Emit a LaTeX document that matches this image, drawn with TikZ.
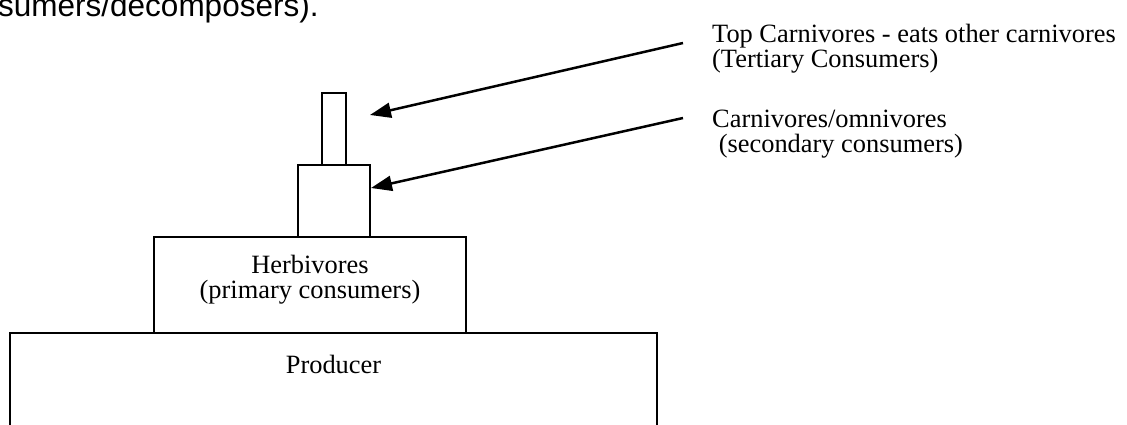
\documentclass[tikz,border=0pt]{standalone}
\usepackage{fontspec}
\setmainfont{Liberation Serif}
\newfontfamily\headfont{Liberation Sans}
\usepackage{tikz}
\usetikzlibrary{positioning}
\usetikzlibrary{arrows.meta}
\usetikzlibrary{math}

\tikzset{
  box/.style={draw, line width=2pt, inner sep=0pt, outer sep=0pt},
  labeltext/.style={font=\fontsize{26.4}{25}\selectfont, inner sep=0pt, align=left},
  pointer/.style={line width=2.5pt, -{Triangle[length=21pt,width=15pt]}},
}

\begin{document}
\begin{tikzpicture}[x=1pt,y=-1pt]

  \tikzmath{
    \lvlbase = 333; % top of producer level
    \lvlherb = 237; % top of herbivore level
    \lvlsec  = 165; % top of secondary level
  }

  \useasboundingbox (0,0) rectangle (1127,425);
  \clip (0,0) rectangle (1127,425);

  % heading line, cut at the left
  \node[anchor=base west, inner sep=0pt, font=\headfont\fontsize{31.5}{36}\selectfont]
    (heading) at (-2,17) {sumers/decomposers).};

  % pyramid levels
  \node[box, anchor=north west, minimum width=647pt, minimum height=200pt]
    (producer) at (10,\lvlbase) {};
  \node[labeltext, below=22pt of producer.north] (prodtext) {Producer};

  \node[box, anchor=south west, minimum width=312pt, minimum height=96pt]
    (herbivores) at (154,\lvlbase) {};
  \node[labeltext, align=center] (herbtext) at ([yshift=5pt]herbivores.center)
    {Herbivores\\(primary consumers)};

  \node[box, anchor=south west, minimum width=72pt, minimum height=72pt]
    (secondary) at (298,\lvlherb) {};

  \node[box, anchor=south west, minimum width=24.5pt, minimum height=72pt]
    (tertiary) at (321.5,\lvlsec) {};

  % labels on the right (base = last line)
  \node[labeltext, anchor=base west] (toplabel) at (712,68)
    {Top Carnivores - eats other carnivores\\(Tertiary Consumers)};
  \node[labeltext, anchor=base west] (seclabel) at (712,153)
    {Carnivores/omnivores\\\ (secondary consumers)};

  % pointers
  \coordinate (topstart) at (683,43);
  \coordinate (toptip)   at (370,115);
  \coordinate (secstart) at (683,118);
  \coordinate (sectip)   at (371,188);

  \draw[pointer] (topstart) -- (toptip);
  \draw[pointer] (secstart) -- (sectip);

\end{tikzpicture}
\end{document}
